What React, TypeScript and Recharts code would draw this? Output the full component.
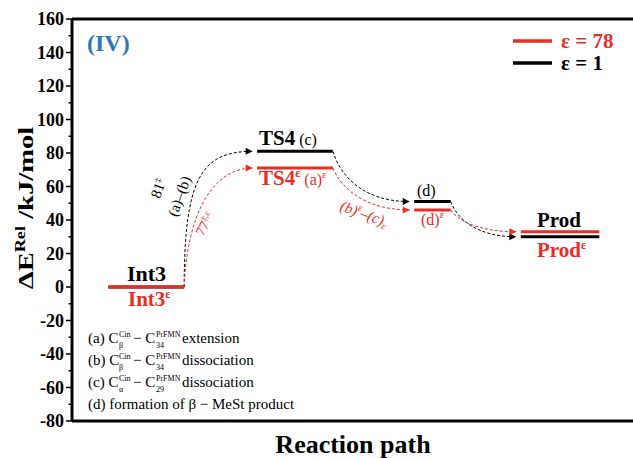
import React from "react";
import { LineChart, Line, XAxis, YAxis, ReferenceLine } from "recharts";

const FONT = '"Liberation Serif", "Times New Roman", "DejaVu Serif", serif';
const RED = "#ec2c25";
const BLUE = "#2f78bd";

// reaction coordinate span of each level (arbitrary units along the path)
const stages = ["Int3", "TS4", "(d)", "Prod"];
const levelFrom = [6.5, 33, 61, 80];
const levelTo = [20, 46.5, 67.5, 94];

// relative energies, kJ/mol
const energyVac = [0, 81, 51, 30]; // eps = 1
const energyWat = [0, 71, 46, 33]; // eps = 78

const yTicks = [-80, -70, -60, -50, -40, -30, -20, -10, 0, 10, 20, 30, 40, 50, 60, 70, 80, 90, 100, 110, 120, 130, 140, 150, 160];

const notes = [
  { tag: "a", lo: "\u03b2", idx: "34", word: "extension" },
  { tag: "b", lo: "\u03b2", idx: "34", word: "dissociation" },
  { tag: "c", lo: "\u03b1", idx: "29", word: "dissociation" },
];

// bezier from the end of one level into the start of the next
const bend = (k0: number, lean: number, k1: number) => (context: any) => {
  let pts: number[][] = [];
  return {
    areaStart() {},
    areaEnd() {},
    lineStart() {
      pts = [];
    },
    point(x: number, y: number) {
      pts.push([+x, +y]);
    },
    lineEnd() {
      if (pts.length < 2) return;
      const [x0, y0] = pts[0];
      const [x1, y1] = pts[pts.length - 1];
      const dx = x1 - x0;
      const dy = y1 - y0;
      context.moveTo(x0, y0);
      context.bezierCurveTo(x0 + lean * dx, y0 + k0 * dy, x1 - k1 * dx, y1, x1, y1);
    },
  };
};

const arrowDot = (color: string) => (p: any) => {
  const { cx, cy, index } = p;
  if (index !== 1) return <g key={`d${index}`} />;
  return (
    <path
      key={`d${index}`}
      d={`M${cx},${cy} L${cx - 7},${cy - 3.5} L${cx - 7},${cy + 3.5} Z`}
      fill={color}
      stroke="none"
    />
  );
};

const YTick = (props: any) => {
  const { x, y, payload } = props;
  const major = payload.value % 20 === 0;
  return (
    <g>
      <line x1={x - (major ? 6 : 3.5)} x2={x} y1={y} y2={y} stroke="#000" strokeWidth={1.5} />
      {major && (
        <text
          x={x - 8}
          y={y}
          dy="0.35em"
          textAnchor="end"
          fontFamily={FONT}
          style={{ fontFamily: FONT }}
          fontWeight="bold"
          fontSize={18}
          fill="#000"
        >
          {payload.value}
        </text>
      )}
    </g>
  );
};

function levelData(i: number, e: number[]) {
  return [
    { x: levelFrom[i], y: e[i] },
    { x: levelTo[i], y: e[i] },
  ];
}

function hopData(i: number, e: number[]) {
  return [
    { x: levelTo[i], y: e[i] },
    { x: levelFrom[i + 1] - 0.8, y: e[i + 1] },
  ];
}

export default function App() {
  const sup = { fontSize: 12 };
  return (
    <div style={{ position: "absolute", left: 0, top: 0, width: 633, height: 458, background: "#fff", fontFamily: FONT }}>
      <LineChart width={633} height={458} margin={{ top: 19, right: 0, bottom: 0, left: 0 }}>
        <XAxis
          type="number"
          dataKey="x"
          domain={[0, 100]}
          tick={false}
          tickLine={false}
          axisLine={{ stroke: "#000", strokeWidth: 3 }}
          height={37}
        />
        <YAxis
          type="number"
          domain={[-80, 160]}
          ticks={yTicks}
          interval={0}
          width={72}
          tickSize={0}
          tickMargin={0}
          tick={<YTick />}
          axisLine={{ stroke: "#000", strokeWidth: 3 }}
        />
        <ReferenceLine y={160} stroke="#000" strokeWidth={3} />

        {stages.slice(0, -1).map((s, i) => (
          <Line
            key={`hv${s}`}
            data={hopData(i, energyVac)}
            dataKey="y"
            type={i === 0 ? bend(0.8, 0, 0.75) : bend(0.5, 0.1, 0.6)}
            stroke="#000"
            strokeWidth={1}
            strokeDasharray="3 2"
            dot={arrowDot("#000")}
            activeDot={false}
            isAnimationActive={false}
          />
        ))}
        {stages.slice(0, -1).map((s, i) => (
          <Line
            key={`hw${s}`}
            data={hopData(i, energyWat)}
            dataKey="y"
            type={i === 0 ? bend(0.6, 0.04, 0.6) : bend(0.45, 0.1, 0.6)}
            stroke={RED}
            strokeWidth={1}
            strokeDasharray="3 2"
            dot={arrowDot(RED)}
            activeDot={false}
            isAnimationActive={false}
          />
        ))}

        {stages.map((s, i) => (
          <Line
            key={`lv${s}`}
            data={levelData(i, energyVac)}
            dataKey="y"
            type="linear"
            stroke="#000"
            strokeWidth={3}
            dot={false}
            activeDot={false}
            isAnimationActive={false}
          />
        ))}
        {stages.map((s, i) => (
          <Line
            key={`lw${s}`}
            data={levelData(i, energyWat)}
            dataKey="y"
            type="linear"
            stroke={RED}
            strokeWidth={3}
            dot={false}
            activeDot={false}
            isAnimationActive={false}
          />
        ))}
      </LineChart>

      <svg
        width={633}
        height={458}
        style={{ position: "absolute", left: 0, top: 0, pointerEvents: "none" }}
        fontFamily={FONT}
      >
        <text x={87} y={51} fontSize={24} fontWeight="bold" fill={BLUE}>(IV)</text>

        <line x1={513} x2={552} y1={41} y2={41} stroke={RED} strokeWidth={3.5} />
        <text x={561} y={48} fontSize={21} fontWeight="bold" fill={RED}>{"\u03b5 = 78"}</text>
        <line x1={513} x2={552} y1={63} y2={63} stroke="#000" strokeWidth={3.5} />
        <text x={561} y={70} fontSize={21} fontWeight="bold" fill="#000">{"\u03b5 = 1"}</text>

        <text x={127} y={281} fontSize={22} fontWeight="bold">Int3</text>
        <text x={128} y={306} fontSize={21} fontWeight="bold" fill={RED}>
          Int3<tspan dy={-8} {...sup}>{"\u03b5"}</tspan>
        </text>

        <text x={259} y={145} fontSize={21} fontWeight="bold">
          TS4<tspan fontWeight="normal" fontSize={16}>{" (c)"}</tspan>
        </text>
        <text x={259} y={185} fontSize={21} fontWeight="bold" fill={RED}>
          TS4<tspan dy={-8} {...sup}>{"\u03b5"}</tspan>
          <tspan dy={8} fontWeight="normal" fontSize={16}>{" (a)"}</tspan>
          <tspan dy={-7} fontWeight="normal" fontSize={11}>{"\u03b5"}</tspan>
        </text>

        <text x={417} y={196} fontSize={16}>(d)</text>
        <text x={421} y={225} fontSize={16} fill={RED}>
          (d)<tspan dy={-7} fontSize={11}>{"\u03b5"}</tspan>
        </text>

        <text x={537} y={227} fontSize={21} fontWeight="bold">Prod</text>
        <text x={537} y={257} fontSize={21} fontWeight="bold" fill={RED}>
          Prod<tspan dy={-8} {...sup}>{"\u03b5"}</tspan>
        </text>

        <text transform="translate(339,210) rotate(20)" fontSize={15} fontStyle="italic" fill={RED}>
          (b)<tspan dy={-6} fontSize={10}>{"\u03b5"}</tspan>
          <tspan dy={6}>{"\u2013(c)"}</tspan>
          <tspan dy={3} fontSize={10}>{"\u03b5"}</tspan>
        </text>

        <text transform="translate(163,190) rotate(-70)" fontSize={15} textAnchor="middle">
          81<tspan dy={-5} fontSize={9}>{"\u2021"}</tspan>
        </text>
        <text transform="translate(184,198) rotate(-70)" fontSize={15} textAnchor="middle">
          {"(a)\u2013(b)"}
        </text>
        <text transform="translate(209,226) rotate(-62)" fontSize={14} textAnchor="middle" fill={RED}>
          77<tspan dy={-5} fontSize={9}>{"\u2021,\u03b5"}</tspan>
        </text>

        {notes.map((n, i) => (
          <text key={n.tag} x={88} y={343 + i * 22} fontSize={15}>
            {`(${n.tag}) C`}
            <tspan x={119} dy={-6} fontSize={8}>Cin</tspan>
            <tspan x={119} dy={11} fontSize={8}>{n.lo}</tspan>
            <tspan x={133} dy={-5}>{"\u2212 C"}</tspan>
            <tspan x={156} dy={-6} fontSize={8}>PrFMN</tspan>
            <tspan x={156} dy={11} fontSize={8}>{n.idx}</tspan>
            <tspan x={182} dy={-5}>{n.word}</tspan>
          </text>
        ))}
        <text x={88} y={409} fontSize={15}>{"(d) formation of \u03b2 \u2212 MeSt product"}</text>

        <text transform="translate(33,208) rotate(-90) scale(1.3,1)" fontSize={22} fontWeight="bold" textAnchor="middle">
          {"\u0394E"}
          <tspan dy={-8} fontSize={14}>Rel</tspan>
          <tspan dy={8}>{" /kJ/mol"}</tspan>
        </text>

        <text x={353} y={453} fontSize={26} fontWeight="bold" textAnchor="middle">Reaction path</text>
      </svg>
    </div>
  );
}
